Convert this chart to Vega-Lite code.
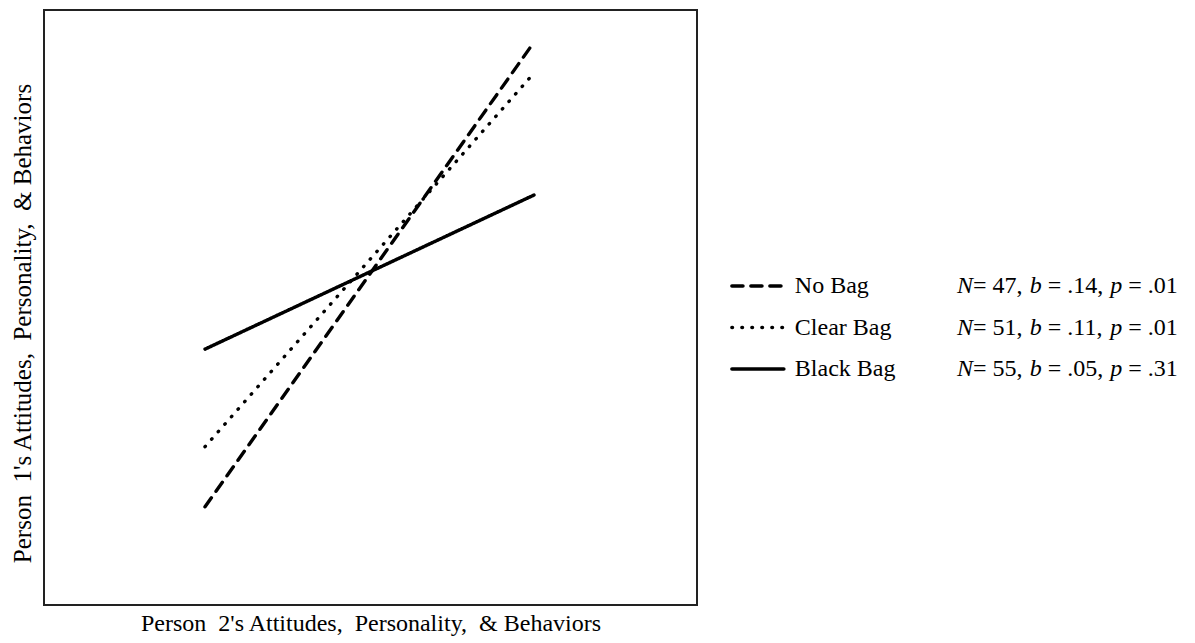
{
  "$schema": "https://vega.github.io/schema/vega-lite/v6.json",
  "background": "white",
  "padding": {"left": 9, "top": 9, "right": 0, "bottom": 0},
  "config": {
    "font": "Liberation Serif",
    "view": {"stroke": null},
    "concat": {"spacing": 0}
  },
  "datasets": {
    "lines": [
      {"group": "No Bag", "x": -1, "y": 1.65},
      {"group": "No Bag", "x": 1, "y": 9.46},
      {"group": "Clear Bag", "x": -1, "y": 2.66},
      {"group": "Clear Bag", "x": 1, "y": 8.94},
      {"group": "Black Bag", "x": -1, "y": 4.30},
      {"group": "Black Bag", "x": 1, "y": 6.89}
    ],
    "stats": [
      {"group": "No Bag", "N": "47", "b": ".14", "p": ".01"},
      {"group": "Clear Bag", "N": "51", "b": ".11", "p": ".01"},
      {"group": "Black Bag", "N": "55", "b": ".05", "p": ".31"}
    ]
  },
  "hconcat": [
    {
      "width": 653,
      "height": 595,
      "view": {"stroke": "#222", "strokeWidth": 2},
      "data": {"name": "lines"},
      "mark": {"type": "line", "color": "black", "strokeWidth": 3.4, "strokeCap": "round"},
      "encoding": {
        "x": {
          "field": "x", "type": "quantitative",
          "scale": {"domain": [-1.979, 1.991], "nice": false, "zero": false},
          "axis": {"title": "Person\u00a0 2's Attitudes,\u00a0 Personality,\u00a0 & Behaviors", "labels": false, "ticks": false, "domain": false, "grid": false, "titleFont": "Liberation Serif", "titleFontSize": 24, "titleFontWeight": "normal", "titleColor": "black", "titlePadding": 6}
        },
        "y": {
          "field": "y", "type": "quantitative",
          "scale": {"domain": [0, 10], "nice": false, "zero": false},
          "axis": {"title": "Person\u00a0 1's Attitudes,\u00a0 Personality,\u00a0 & Behaviors", "labels": false, "ticks": false, "domain": false, "grid": false, "titleFont": "Liberation Serif", "titleFontSize": 25, "titleFontWeight": "normal", "titleColor": "black", "titlePadding": 9, "titleY": 313}
        },
        "strokeDash": {
          "field": "group", "type": "nominal",
          "scale": {"domain": ["No Bag", "Clear Bag", "Black Bag"], "range": [[11, 8], [0.5, 9.5], [1, 0]]},
          "legend": null
        },
        "detail": {"field": "group"}
      }
    },
    {
      "width": 499,
      "height": 595,
      "data": {"name": "stats"},
      "encoding": {
        "y": {"field": "group", "type": "ordinal", "scale": {"type": "point", "domain": ["No Bag", "Clear Bag", "Black Bag"], "range": [276, 359], "padding": 0}, "axis": null}
      },
      "layer": [
        {
          "mark": {"type": "rule", "color": "black", "strokeWidth": 3.6, "strokeCap": "round"},
          "encoding": {
            "x": {"datum": 6.8, "type": "quantitative", "scale": {"domain": [0, 100], "nice": false, "zero": false}, "axis": null},
            "x2": {"datum": 17.2},
            "strokeDash": {
              "field": "group", "type": "nominal",
              "scale": {"domain": ["No Bag", "Clear Bag", "Black Bag"], "range": [[12, 7], [0.5, 9.5], [1, 0]]},
              "legend": null
            }
          }
        },
        {
          "mark": {"type": "text", "align": "left", "baseline": "middle", "fontSize": 24, "color": "black"},
          "encoding": {"x": {"datum": 19.4, "type": "quantitative"}, "text": {"field": "group"}}
        },
        {
          "mark": {"type": "text", "align": "left", "baseline": "middle", "fontSize": 24, "fontStyle": "italic", "color": "black"},
          "encoding": {"x": {"datum": 51.9, "type": "quantitative"}, "text": {"value": "N"}}
        },
        {
          "transform": [{"calculate": "'= ' + datum.N + ','", "as": "Nt"}],
          "mark": {"type": "text", "align": "left", "baseline": "middle", "fontSize": 24, "color": "black"},
          "encoding": {"x": {"datum": 55.1, "type": "quantitative"}, "text": {"field": "Nt"}}
        },
        {
          "mark": {"type": "text", "align": "left", "baseline": "middle", "fontSize": 24, "fontStyle": "italic", "color": "black"},
          "encoding": {"x": {"datum": 66.5, "type": "quantitative"}, "text": {"value": "b"}}
        },
        {
          "transform": [{"calculate": "'= ' + datum.b + ','", "as": "bt"}],
          "mark": {"type": "text", "align": "left", "baseline": "middle", "fontSize": 24, "color": "black"},
          "encoding": {"x": {"datum": 70.1, "type": "quantitative"}, "text": {"field": "bt"}}
        },
        {
          "mark": {"type": "text", "align": "left", "baseline": "middle", "fontSize": 24, "fontStyle": "italic", "color": "black"},
          "encoding": {"x": {"datum": 82.6, "type": "quantitative"}, "text": {"value": "p"}}
        },
        {
          "transform": [{"calculate": "'= ' + datum.p", "as": "pt"}],
          "mark": {"type": "text", "align": "left", "baseline": "middle", "fontSize": 24, "color": "black"},
          "encoding": {"x": {"datum": 86.2, "type": "quantitative"}, "text": {"field": "pt"}}
        }
      ]
    }
  ]
}
